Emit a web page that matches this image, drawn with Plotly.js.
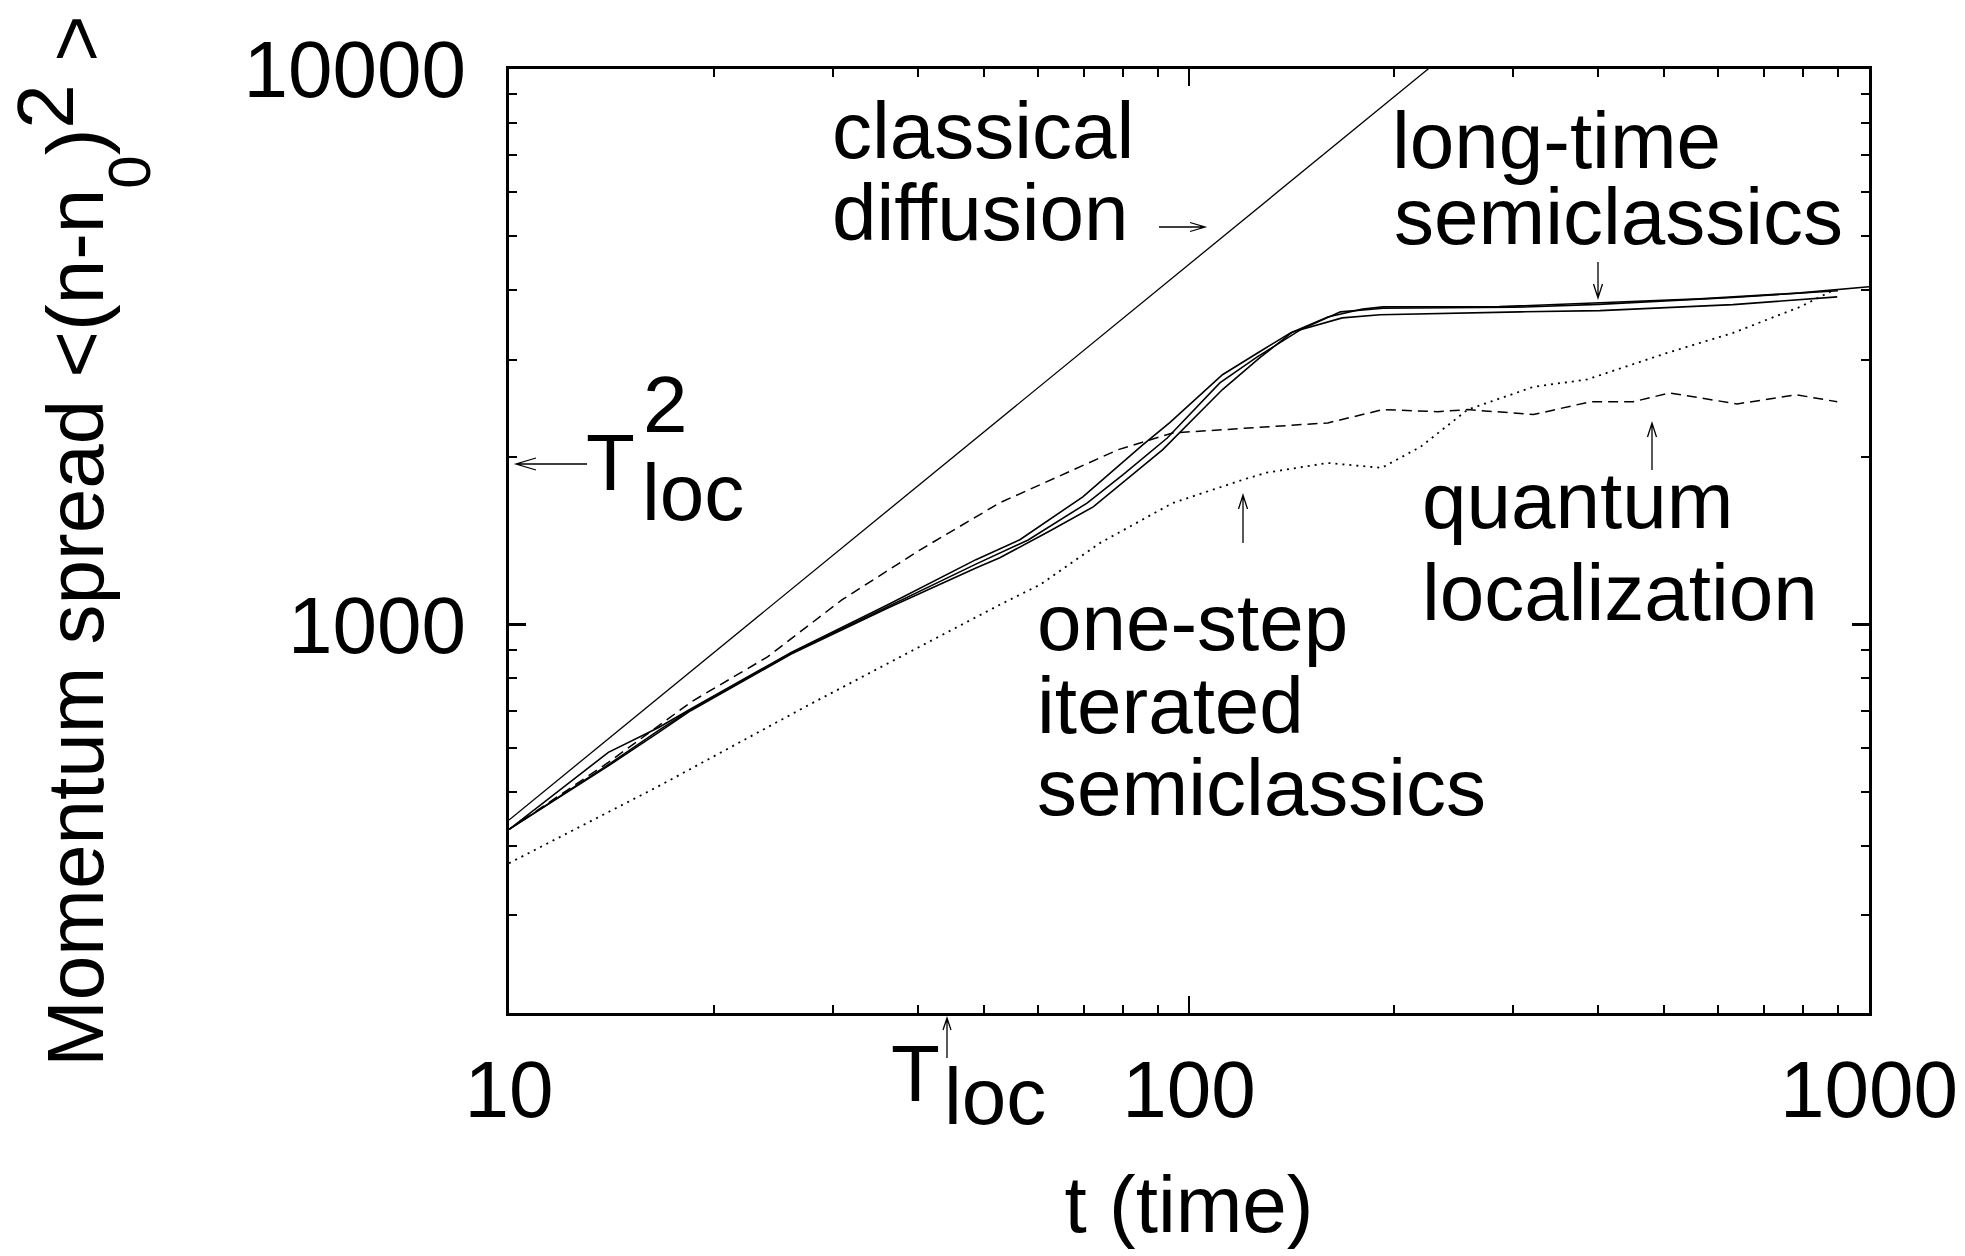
<!DOCTYPE html>
<html><head><meta charset="utf-8">
<script src="https://cdn.plot.ly/plotly-3.0.1.min.js"></script>
<style>html,body{margin:0;padding:0;background:#fff;}</style>
</head><body>
<div id="chart" style="width:1965px;height:1256px;"></div>
<script>
// ---- data ----
const classicalT = [10, 240];
const classicalY = [445, 10680];

const longT1 = [10, 14, 16.6, 18.5, 26, 36, 48.6, 56.4, 69.8, 85.5, 93.7, 112, 127, 141, 160, 180, 193, 286, 402, 563, 792, 1000];
const longY1 = [428, 589, 653, 705, 891, 1085, 1309, 1422, 1698, 2107, 2309, 2817, 3098, 3350, 3578, 3700, 3732, 3735, 3795, 3857, 3954, 4055];

const longT2 = [10, 14, 16.6, 18.5, 26, 36, 48.6, 58, 70.8, 80, 92.9, 111, 126, 146, 167, 193, 300, 400, 630, 900];
const longY2 = [428, 560, 645, 703, 888, 1078, 1285, 1420, 1655, 1862, 2167, 2723, 3034, 3396, 3655, 3710, 3725, 3770, 3880, 3990];

const longT3 = [10, 14, 16.6, 18.5, 26, 36, 48.6, 52.7, 62.5, 72.3, 91.5, 112, 127, 142, 168, 191, 307, 402, 631, 898];
const longY3 = [428, 557, 640, 700, 885, 1070, 1265, 1319, 1476, 1629, 2065, 2649, 3020, 3364, 3565, 3611, 3655, 3674, 3766, 3890];

const quantumT = [10, 14, 18.6, 24, 30.9, 40.3, 52.7, 58.2, 78.7, 94.6, 160, 193, 232, 257, 321, 389, 450, 509, 640, 783, 898];
const quantumY = [428, 565, 728, 875, 1109, 1365, 1657, 1750, 2065, 2213, 2307, 2438, 2417, 2438, 2388, 2518, 2518, 2612, 2496, 2592, 2518];

const oneStepT = [10, 16.6, 27.6, 37.6, 52.7, 60.4, 74, 94.6, 120, 130, 160, 192, 219, 257, 321, 385, 505, 631, 792, 890];
const oneStepY = [372, 512, 717, 875, 1086, 1180, 1403, 1655, 1823, 1877, 1954, 1915, 2089, 2438, 2679, 2762, 3084, 3350, 3732, 4009];

const xTickVals = [10, 100, 1000];
const xTickText = ['10', '100', '1000'];
const yTickVals = [1000, 10000];
const yTickText = ['1000', '10000'];

// ---- layout helpers ----
const W = 1965, H = 1256, ML = 509, MR = 96, MT = 69, MB = 243;
const PW = W - ML - MR, PH = H - MT - MB;
const px = X => (X - ML) / PW;
const py = Y => (H - MB - Y) / PH;
const FS = 80;
const FONT = {family: '"Liberation Sans", Arial, Helvetica, sans-serif', size: FS, color: '#000'};

function label(text, left, baseline) {
  return {text: text, xref: 'paper', yref: 'paper', x: px(left), y: py(baseline - 0.3465 * FS),
          xanchor: 'left', yanchor: 'middle', showarrow: false, font: FONT};
}
function arrow(tipX, tipY, tailX, tailY, hl, hw) {
  const dx = tipX - tailX, dy = tipY - tailY, len = Math.hypot(dx, dy);
  const ux = dx / len, uy = dy / len;
  const b1x = tipX - ux * hl - uy * hw, b1y = tipY - uy * hl + ux * hw;
  const b2x = tipX - ux * hl + uy * hw, b2y = tipY - uy * hl - ux * hw;
  const P = (X, Y) => px(X) + ',' + py(Y);
  return {type: 'path', xref: 'paper', yref: 'paper', layer: 'above',
          path: 'M' + P(tailX, tailY) + 'L' + P(tipX, tipY) + 'M' + P(b1x, b1y) + 'L' + P(tipX, tipY) + 'L' + P(b2x, b2y),
          line: {color: '#000', width: 1.3}};
}

const line = (x, y, dash, w) => ({x: x, y: y, type: 'scatter', mode: 'lines',
  line: {color: '#000', width: w, dash: dash}, showlegend: false, hoverinfo: 'skip'});

const traces = [
  line(classicalT, classicalY, 'solid', 1.3),
  line(longT1, longY1, 'solid', 1.6),
  line(longT2, longY2, 'solid', 1.6),
  line(longT3, longY3, 'solid', 1.6),
  line(quantumT, quantumY, '10px,6px', 1.5),
  line(oneStepT, oneStepY, '2px,5px', 1.8)
];

const axisCommon = {
  type: 'log', showline: true, linewidth: 3, linecolor: '#000', mirror: 'allticks',
  ticks: 'inside', ticklen: 17, tickwidth: 2.5, tickcolor: '#000',
  showgrid: false, zeroline: false, tickfont: FONT, tickmode: 'array',
  minor: {ticks: 'inside', ticklen: 8, tickwidth: 2, tickcolor: '#000', dtick: 'D1', showgrid: false}
};

const yTitle = 'Momentum spread &lt;(n-n<span style="font-size:60px;baseline-shift:-47px">0</span>)' +
               '<span style="baseline-shift:30px">2</span> &gt;';

const layout = {
  width: W, height: H,
  margin: {l: ML, r: MR, t: MT, b: MB, pad: 0},
  paper_bgcolor: '#fff', plot_bgcolor: '#fff',
  font: FONT, showlegend: false, hovermode: false,
  xaxis: Object.assign({}, axisCommon, {
    range: [1, 3], tickvals: xTickVals, ticktext: xTickText, ticklabelstandoff: 5,
    title: {text: 't (time)', font: FONT, standoff: 43}
  }),
  yaxis: Object.assign({}, axisCommon, {
    range: [Math.log10(200), 4], tickvals: yTickVals, ticktext: yTickText, ticklabelstandoff: 24,
    title: {text: yTitle, font: FONT, standoff: 114}
  }),
  annotations: [
    label('classical', 830, 158),
    label('diffusion', 830, 240),
    label('long-time', 1390, 168),
    label('semiclassics', 1392, 244),
    label('quantum', 1420, 528),
    label('localization', 1420, 620),
    label('one-step', 1035, 650),
    label('iterated', 1035, 733),
    label('semiclassics', 1035, 815),
    label('T', 584, 490),
    label('2', 641, 432),
    label('loc', 640, 520),
    label('T', 889, 1101),
    label('loc', 942, 1124)
  ],
  shapes: [
    arrow(516, 464, 587, 464, 20, 6),
    arrow(1205, 227, 1159, 227, 15, 4.5),
    arrow(1598, 298, 1598, 262, 14, 4.5),
    arrow(1652, 423, 1652, 470, 14, 4.5),
    arrow(1243, 495, 1243, 543, 14, 4.5),
    arrow(947, 1018, 947, 1058, 12, 4)
  ]
};

Plotly.newPlot('chart', traces, layout, {staticPlot: true, displayModeBar: false});
</script>
</body></html>
